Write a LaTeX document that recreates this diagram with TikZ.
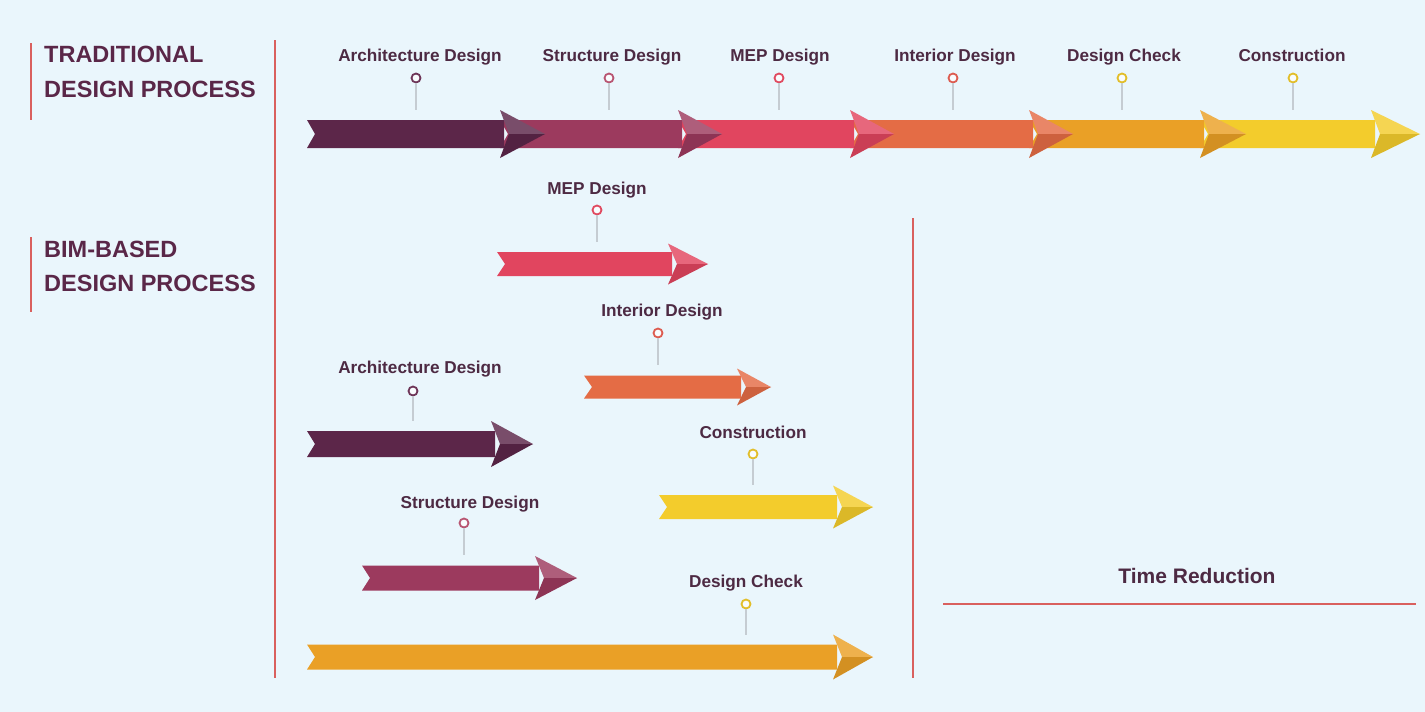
\documentclass[tikz,border=0pt]{standalone}
\usepackage{fontspec}
\setmainfont{Liberation Sans}
\definecolor{bgC}{HTML}{EAF6FC}
\definecolor{archC}{HTML}{5C2649}
\definecolor{strC}{HTML}{9C3A5E}
\definecolor{mepC}{HTML}{E1455F}
\definecolor{intC}{HTML}{E46C45}
\definecolor{dcC}{HTML}{EAA026}
\definecolor{conC}{HTML}{F3CC2C}
\definecolor{textC}{HTML}{4D2A43}
\definecolor{titleC}{HTML}{5A2748}
\definecolor{redC}{HTML}{D9605E}
\definecolor{stemC}{HTML}{C5CCD2}
\definecolor{pinA}{HTML}{6E3558}
\definecolor{pinS}{HTML}{B85572}
\definecolor{pinM}{HTML}{E04A60}
\definecolor{pinI}{HTML}{DD5C50}
\definecolor{pinY}{HTML}{E2BE2A}
% #1 tail x, #2 head base x, #3 tip x, #4 centre y, #5 body half, #6 head half, #7 colour
\newcommand\procarrow[7]{%
  \fill[#7] (#1,#4-#5) -- (#2+4,#4-#5) -- (#2+4,#4+#5) -- (#1,#4+#5) -- (#1+8,#4) -- cycle;
  \fill[#7!82!white] (#2,#4-#6) -- (#3,#4) -- (#2+9,#4) -- cycle;
  \fill[#7!90!black] (#2+9,#4) -- (#3,#4) -- (#2,#4+#6) -- cycle;
}
\tikzset{
  lbl/.style={font=\bfseries\fontsize{17.2}{19}\selectfont, text=textC, inner sep=0pt, text height=12.3pt, text depth=0pt, anchor=center},
  ttl/.style={font=\bfseries\fontsize{23.5}{26}\selectfont, text=titleC, inner sep=0pt, text height=16.8pt, text depth=0pt, anchor=west},
  pin/.style={circle, draw=#1, line width=1.8pt, fill=white!70!bgC, minimum size=9pt, inner sep=0pt},
  stemline/.style={draw=stemC, line width=1.4pt},
  redline/.style={draw=redC, line width=2pt},
}
\begin{document}
\begin{tikzpicture}[x=1pt,y=-1pt]
\fill[bgC] (0,0) rectangle (1425,712);
\useasboundingbox (0,0) rectangle (1425,712);

% red separators
\coordinate (r1a) at (31,43); \coordinate (r1b) at (31,120);
\coordinate (r2a) at (31,237); \coordinate (r2b) at (31,312);
\coordinate (vma) at (275,40); \coordinate (vmb) at (275,678);
\coordinate (vra) at (913,218); \coordinate (vrb) at (913,678);
\coordinate (hra) at (943,604); \coordinate (hrb) at (1416,604);
\draw[redline] (r1a) -- (r1b);
\draw[redline] (r2a) -- (r2b);
\draw[redline] (vma) -- (vmb);
\draw[redline] (vra) -- (vrb);
\draw[redline] (hra) -- (hrb);

% titles
\node[ttl] (t1) at (44,54.5) {TRADITIONAL};
\node[ttl] (t2) at (44,89) {DESIGN PROCESS};
\node[ttl] (b1) at (44,249) {BIM-BASED};
\node[ttl] (b2) at (44,283) {DESIGN PROCESS};
\node[font=\bfseries\fontsize{21}{23}\selectfont, text=textC, inner sep=0pt, text height=15pt, text depth=0pt] (tr) at (1197,576) {Time Reduction};

% traditional arrows (right to left so heads overlap next bodies)
\procarrow{1200}{1371}{1420}{134}{14}{24}{conC}
\procarrow{1029}{1200}{1246}{134}{14}{24}{dcC}
\procarrow{850}{1029}{1073}{134}{14}{24}{intC}
\procarrow{678}{850}{894}{134}{14}{24}{mepC}
\procarrow{500}{678}{722}{134}{14}{24}{strC}
\procarrow{307}{500}{545}{134}{14}{24}{archC}

% traditional labels and pins
\node[lbl] (lA) at (420,55) {Architecture Design};
\node[lbl] (lS) at (612,55) {Structure Design};
\node[lbl] (lM) at (780,55) {MEP Design};
\node[lbl] (lI) at (955,55) {Interior Design};
\node[lbl] (lD) at (1124,55) {Design Check};
\node[lbl] (lC) at (1292,55) {Construction};
\node[pin=pinA] (pA) at (416,78) {};
\node[pin=pinS] (pS) at (609,78) {};
\node[pin=pinM] (pM) at (779,78) {};
\node[pin=pinI] (pI) at (953,78) {};
\node[pin=pinY] (pD) at (1122,78) {};
\node[pin=pinY] (pC) at (1293,78) {};
\coordinate (sA) at (416,110); \coordinate (sS) at (609,110);
\coordinate (sM) at (779,110); \coordinate (sI) at (953,110);
\coordinate (sD) at (1122,110); \coordinate (sC) at (1293,110);
\foreach \p in {A,S,M,I,D,C} { \draw[stemline] (p\p.south) -- (s\p); }

% BIM arrows
\procarrow{497}{668}{708}{264}{12}{20.5}{mepC}
\procarrow{584}{737}{771}{387}{11.5}{18.5}{intC}
\procarrow{307}{491}{533}{444}{13}{23}{archC}
\procarrow{659}{833}{873}{507}{12}{21.5}{conC}
\procarrow{362}{535}{577}{578}{12.5}{22}{strC}
\procarrow{307}{833}{873}{657}{12.5}{22.5}{dcC}

% BIM labels and pins
\node[lbl] (bM) at (597,188) {MEP Design};
\node[lbl] (bI) at (662,310) {Interior Design};
\node[lbl] (bA) at (420,367) {Architecture Design};
\node[lbl] (bC) at (753,432) {Construction};
\node[lbl] (bS) at (470,502) {Structure Design};
\node[lbl] (bD) at (746,581) {Design Check};
\node[pin=pinM] (qM) at (597,210) {};
\node[pin=pinI] (qI) at (658,333) {};
\node[pin=pinA] (qA) at (413,391) {};
\node[pin=pinY] (qC) at (753,454) {};
\node[pin=pinS] (qS) at (464,523) {};
\node[pin=pinY] (qD) at (746,604) {};
\coordinate (uM) at (597,242); \coordinate (uI) at (658,365);
\coordinate (uA) at (413,421); \coordinate (uC) at (753,485);
\coordinate (uS) at (464,555); \coordinate (uD) at (746,635);
\foreach \p in {M,I,A,C,S,D} { \draw[stemline] (q\p.south) -- (u\p); }
\end{tikzpicture}
\end{document}
